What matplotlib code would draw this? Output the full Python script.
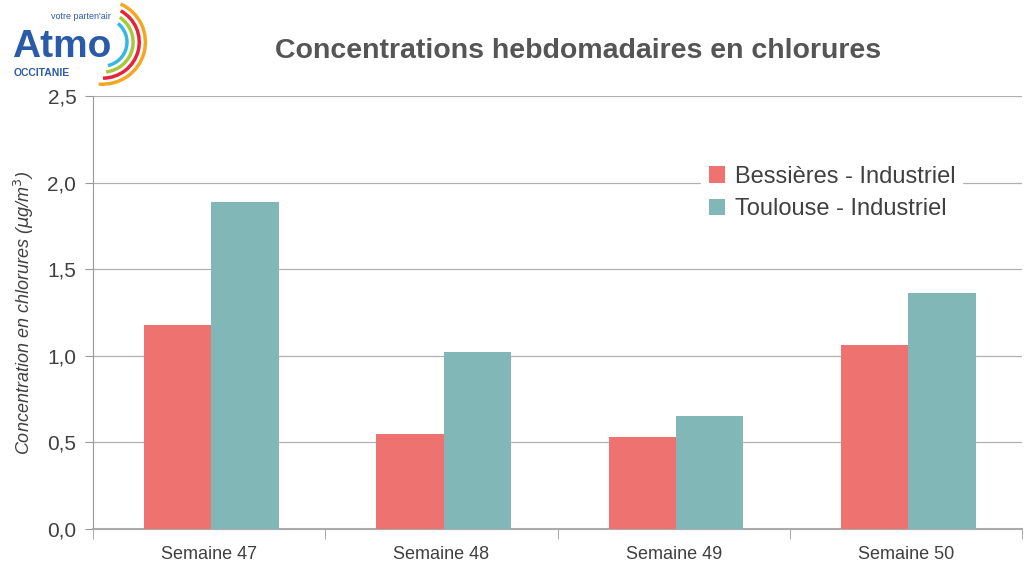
import matplotlib.pyplot as plt
import numpy as np
from matplotlib.patches import Arc

# Weekly chloride concentrations (µg/m3)
weeks = ['Semaine 47', 'Semaine 48', 'Semaine 49', 'Semaine 50']
series_names = ['Bessières - Industriel', 'Toulouse - Industriel']
bessieres = [1.18, 0.55, 0.53, 1.06]
toulouse = [1.89, 1.02, 0.65, 1.36]
yticks = [0.0, 0.5, 1.0, 1.5, 2.0, 2.5]

pink = '#ee7370'
teal = '#82b7b7'
txt = '#404040'

plt.rcParams['font.family'] = ['Liberation Sans', 'DejaVu Sans']

fig = plt.figure(figsize=(10.24, 5.64), dpi=100)
ax = fig.add_axes([93 / 1024, 1 - 529 / 564, 929 / 1024, 433 / 564])

x = np.arange(len(weeks))
w = 0.29
ax.bar(x - w / 2 + 0.01, bessieres, w, color=pink, label=series_names[0], zorder=3)
ax.bar(x + w / 2 + 0.01, toulouse, w, color=teal, label=series_names[1], zorder=3)

ax.set_xlim(-0.5, len(weeks) - 0.5)
ax.set_ylim(0, 2.5)
ax.set_yticks(yticks)
ax.set_yticklabels([f'{v:.1f}'.replace('.', ',') for v in yticks], fontsize=15, color=txt)
ax.yaxis.grid(True, color='#b0b0b0', linewidth=0.9, zorder=0)
ax.tick_params(axis='y', length=6, color='#999999', pad=6)

ax.set_xticks(x)
ax.set_xticklabels(weeks, fontsize=13, color=txt)
ax.set_xticks(np.arange(len(weeks) + 1) - 0.5, minor=True)
ax.tick_params(axis='x', which='major', length=0, pad=12)
ax.tick_params(axis='x', which='minor', length=7, color='#999999')

for s in ['top', 'right']:
    ax.spines[s].set_visible(False)
ax.spines['left'].set_color('#999999')
ax.spines['bottom'].set_color('#aaaaaa')
ax.spines['bottom'].set_linewidth(1.5)

ax.set_ylabel('Concentration en chlorures ($\\mu$g/m$^3$)', fontsize=13, color=txt,
              style='italic', labelpad=8)

leg = ax.legend(loc='upper left', bbox_to_anchor=(0.655, 0.855), fontsize=17,
                frameon=True, framealpha=1, edgecolor='white', facecolor='white',
                handlelength=0.7, handleheight=0.7, handletextpad=0.4,
                labelspacing=0.45, borderpad=0.3, borderaxespad=0)
for t in leg.get_texts():
    t.set_color(txt)
leg.set_zorder(5)

fig.text(0.565, 0.91, 'Concentrations hebdomadaires en chlorures', fontsize=20.5,
         fontweight='bold', color='#555555', ha='center', va='center')

# logo
fig.text(0.012, 1 - 57 / 564, 'Atmo', fontsize=28, fontweight='bold', color='#2b5aa8',
         ha='left', va='baseline')
fig.text(0.013, 1 - 76 / 564, 'OCCITANIE', fontsize=7.5, fontweight='bold', color='#2b5aa8',
         ha='left', va='baseline')
fig.text(0.05, 1 - 19 / 564, "votre parten'air", fontsize=6.5, color='#2b5aa8',
         ha='left', va='baseline')
lax = fig.add_axes([0, 0.84, 0.16, 0.16])
lax.set_xlim(0, 160)
lax.set_ylim(0, 90)
lax.axis('off')
for r, c in zip([42, 36, 30, 24], ['#f5a623', '#e5243b', '#a8c83a', '#38b6e6']):
    lax.add_patch(Arc((100, 48), r * 2, r * 2, theta1=-95 + (42 - r), theta2=65 - (42 - r) * 0.8,
                      color=c, linewidth=2.5))

fig.savefig('out.png', dpi=100, facecolor='white')
